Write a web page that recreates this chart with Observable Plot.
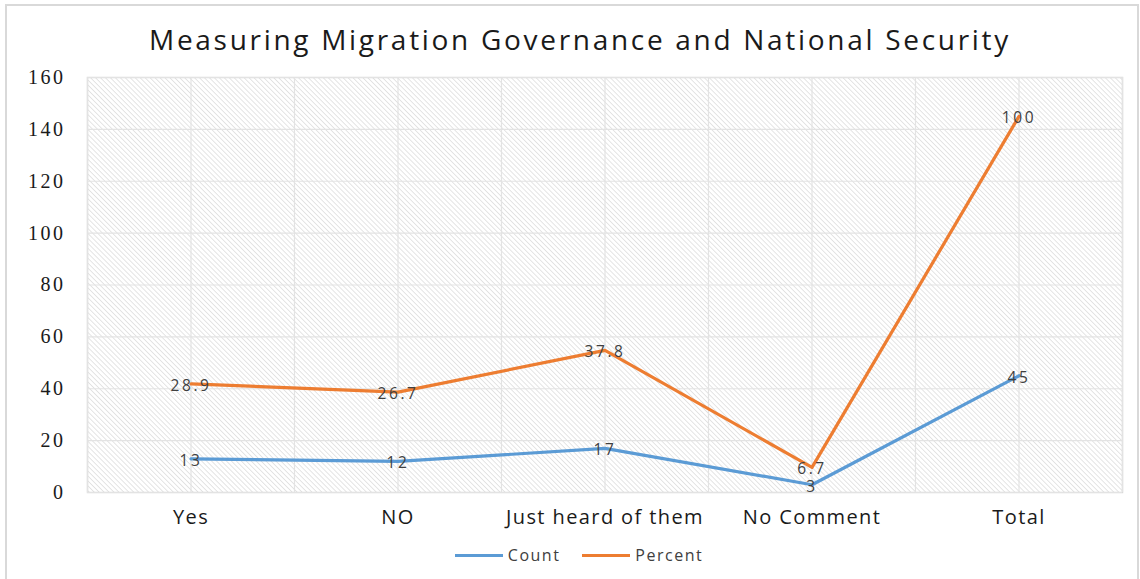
<!DOCTYPE html>
<html>
<head>
<meta charset="utf-8">
<script src="https://cdn.jsdelivr.net/npm/d3@7"></script>
<script src="https://cdn.jsdelivr.net/npm/@observablehq/plot@0.6"></script>
<style>
  html, body { margin: 0; padding: 0; background: #fff; }
  #wrap { position: relative; width: 1140px; height: 579px; overflow: hidden; }
  #frame { position: absolute; left: 5px; top: 4px; width: 1134px; height: 580px; border: 2px solid #d9d9d9; box-sizing: border-box; pointer-events: none; }
  #title { height: 62px; line-height: 78px; text-align: center; font-family: "Open Sans", sans-serif; font-size: 28px; letter-spacing: 2.7px; color: #1a1a1a; white-space: nowrap; padding-left: 20px; box-sizing: border-box; }
  #legend { height: 30px; display: flex; justify-content: center; align-items: center; gap: 22px; font-family: "Open Sans", sans-serif; font-size: 16px; letter-spacing: 1.5px; color: #404040; padding-left: 18px; box-sizing: border-box; }
  .item { display: flex; align-items: center; gap: 5px; }
  .sw { width: 48px; height: 3px; display: inline-block; }
  svg { display: block; }
</style>
</head>
<body>
<div id="wrap">
  <div id="title">Measuring Migration Governance and National Security</div>
  <div id="chart"></div>
  <div id="legend"></div>
  <div id="frame"></div>
</div>
<script>
const categories = ["Yes", "NO", "Just heard of them", "No Comment", "Total"];
const count = [13, 12, 17, 3, 45];
const percent = [28.9, 26.7, 37.8, 6.7, 100];
const yTicks = [0, 20, 40, 60, 80, 100, 120, 140, 160];
const seriesNames = ["Count", "Percent"];
const seriesColors = ["#5B9BD5", "#ED7D31"];

// Stacked line chart: Percent is drawn on top of Count
const rows = [];
categories.forEach((c, i) => {
  rows.push({series: "Count", i, value: count[i], top: count[i], label: String(count[i])});
  rows.push({series: "Percent", i, value: percent[i], top: count[i] + percent[i], label: String(percent[i])});
});
const idx = categories.map((_, i) => i);
const halfSteps = d3.range(-0.5, categories.length, 0.5);

const chart = Plot.plot({
  width: 1140,
  height: 478,
  marginTop: 15,
  marginBottom: 48,
  marginLeft: 87,
  marginRight: 18,
  x: { domain: [-0.5, categories.length - 0.5], ticks: idx, tickFormat: i => categories[i], tickSize: 0, tickPadding: 16, label: null },
  y: { domain: [0, 160], ticks: yTicks, tickSize: 0, tickPadding: 24, label: null },
  color: { domain: seriesNames, range: seriesColors },
  marks: [
    Plot.frame({ fill: "url(#hatch)", stroke: "#d9d9d9", strokeWidth: 1.5 }),
    Plot.ruleY(yTicks, { stroke: "#e3e3e3", strokeWidth: 1.2 }),
    Plot.ruleX(halfSteps, { stroke: "#e3e3e3", strokeWidth: 1.2 }),
    Plot.axisY({ ticks: yTicks, tickSize: 0, tickPadding: 22, fontFamily: "Liberation Serif, serif", fontSize: 20, fill: "#1a1a1a", label: null }),
    Plot.axisX({ ticks: idx, tickFormat: i => categories[i], tickSize: 0, tickPadding: 17, fontFamily: "Open Sans, sans-serif", fontSize: 20, fill: "#1a1a1a", label: null }),
    Plot.line(rows, { x: "i", y: "top", z: "series", stroke: "series", strokeWidth: 3.2, strokeLinejoin: "round" }),
    Plot.text(rows, { x: "i", y: "top", text: "label", fill: "#404040", fontSize: 15.5, fontFamily: "Open Sans, sans-serif", dy: 2 })
  ]
});

// hatch pattern definition
const ns = "http://www.w3.org/2000/svg";
const defs = document.createElementNS(ns, "defs");
defs.innerHTML = `<pattern id="hatch" patternUnits="userSpaceOnUse" width="3.5" height="3.5" patternTransform="rotate(-45)">
  <rect width="3.5" height="3.5" fill="#ffffff"/>
  <line x1="0" y1="0" x2="0" y2="3.5" stroke="#d4d4d4" stroke-width="1.2"/>
</pattern>`;
chart.insertBefore(defs, chart.firstChild);

// widen the spacing of the texts as in the reference
d3.select(chart).selectAll('g[aria-label="y-axis tick label"]').attr("letter-spacing", "2.5px");
d3.select(chart).selectAll('g[aria-label="x-axis tick label"]').attr("letter-spacing", "1.4px");
d3.select(chart).selectAll('g[aria-label="text"]').attr("letter-spacing", "2.6px");

document.getElementById("chart").appendChild(chart);

const legend = document.getElementById("legend");
seriesNames.forEach((n, k) => {
  const it = document.createElement("div");
  it.className = "item";
  it.innerHTML = `<span class="sw" style="background:${seriesColors[k]}"></span><span>${n}</span>`;
  legend.appendChild(it);
});
</script>
</body>
</html>
